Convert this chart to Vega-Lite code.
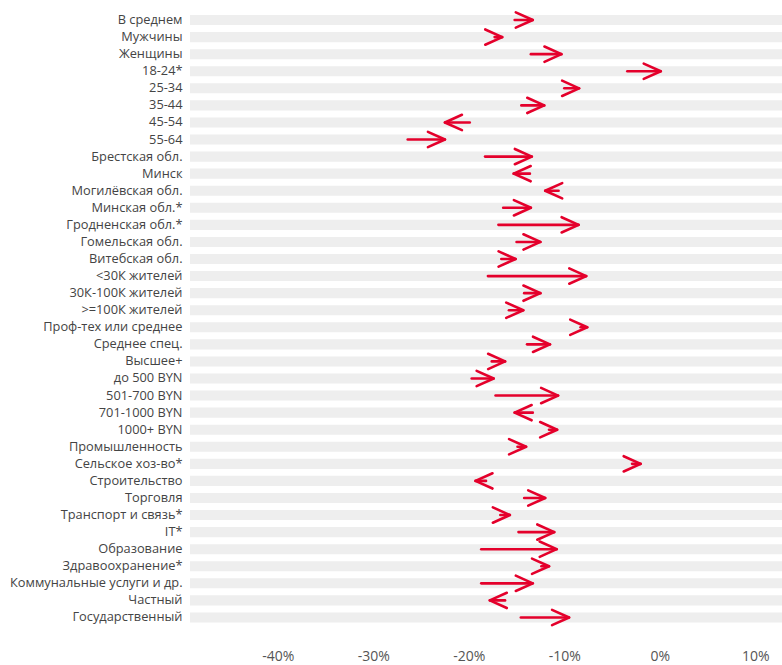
{
  "$schema": "https://vega.github.io/schema/vega-lite/v6.json",
  "width": 592,
  "height": 614.5,
  "autosize": "none",
  "padding": {"left": 190, "top": 11.5, "right": 0, "bottom": 39},
  "background": "white",
  "config": {"view": {"stroke": null}, "font": "Open Sans"},
  "data": {"values": [
    {"label": "В среднем", "start": -15.2, "end": -13.3},
    {"label": "Мужчины", "start": -17.3, "end": -16.5},
    {"label": "Женщины", "start": -13.5, "end": -10.3},
    {"label": "18-24*", "start": -3.4, "end": 0.1},
    {"label": "25-34", "start": -10.0, "end": -8.45},
    {"label": "35-44", "start": -14.5, "end": -12.1},
    {"label": "45-54", "start": -19.9, "end": -22.5},
    {"label": "55-64", "start": -26.4, "end": -22.5},
    {"label": "Брестская обл.", "start": -18.3, "end": -13.4},
    {"label": "Минск", "start": -13.6, "end": -15.3},
    {"label": "Могилёвская обл.", "start": -10.6, "end": -12.0},
    {"label": "Минская обл.*", "start": -16.4, "end": -13.5},
    {"label": "Гродненская обл.*", "start": -16.9, "end": -8.5},
    {"label": "Гомельская обл.", "start": -15.0, "end": -12.5},
    {"label": "Витебская обл.", "start": -16.6, "end": -15.1},
    {"label": "<30К жителей", "start": -18.0, "end": -7.7},
    {"label": "30К-100К жителей", "start": -14.2, "end": -12.5},
    {"label": ">=100К жителей", "start": -15.8, "end": -14.3},
    {"label": "Проф-тех или среднее", "start": -8.3, "end": -7.6},
    {"label": "Среднее спец.", "start": -13.9, "end": -11.5},
    {"label": "Высшее+", "start": -17.6, "end": -16.2},
    {"label": "до 500 BYN", "start": -19.7, "end": -17.4},
    {"label": "501-700 BYN", "start": -17.2, "end": -10.65},
    {"label": "701-1000 BYN", "start": -13.3, "end": -15.2},
    {"label": "1000+ BYN", "start": -11.6, "end": -10.75},
    {"label": "Промышленность", "start": -14.9, "end": -14.0},
    {"label": "Сельское хоз-во*", "start": -2.9, "end": -2.0},
    {"label": "Строительство", "start": -18.2, "end": -19.3},
    {"label": "Торговля", "start": -14.2, "end": -12.0},
    {"label": "Транспорт и связь*", "start": -16.7, "end": -15.7},
    {"label": "IT*", "start": -14.8, "end": -11.05},
    {"label": "Образование", "start": -18.7, "end": -10.8},
    {"label": "Здравоохранение*", "start": -12.4, "end": -11.6},
    {"label": "Коммунальные услуги и др.", "start": -18.7, "end": -13.3},
    {"label": "Частный", "start": -16.2, "end": -17.8},
    {"label": "Государственный", "start": -14.55, "end": -9.5}
  ]},
  "encoding": {
    "y": {
      "field": "label", "type": "nominal", "sort": null, "title": null,
      "scale": {"paddingInner": 0.41, "paddingOuter": 0.205},
      "axis": {"ticks": false, "domain": false, "labelPadding": 8, "labelFontSize": 12.8, "labelColor": "#444444", "labelFont": "Open Sans"}
    }
  },
  "layer": [
    {
      "mark": {"type": "bar", "color": "#eeeeee"},
      "encoding": {}
    },
    {
      "mark": {"type": "rule", "color": "#e4002b", "strokeWidth": 2.6, "strokeCap": "round"},
      "encoding": {
        "x": {"field": "start", "type": "quantitative", "title": null,
          "scale": {"domain": [-49.2, 12.8], "nice": false, "zero": false},
          "axis": {"values": [-40, -30, -20, -10, 0, 10], "labelExpr": "datum.value + '%'", "grid": false, "ticks": false, "domain": false, "labelPadding": 23, "labelFontSize": 14, "labelColor": "#555555", "labelFont": "Open Sans"}},
        "x2": {"field": "end"}
      }
    },
    {
      "mark": {"type": "point", "shape": "M-1,-0.45L0,0L-1,0.45", "filled": false, "size": 1156, "strokeWidth": 2.6, "color": "#e4002b", "opacity": 1, "strokeJoin": "round", "strokeCap": "round"},
      "encoding": {
        "x": {"field": "end", "type": "quantitative"},
        "angle": {"condition": {"test": "datum.end < datum.start", "value": 180}, "value": 0}
      }
    }
  ]
}
